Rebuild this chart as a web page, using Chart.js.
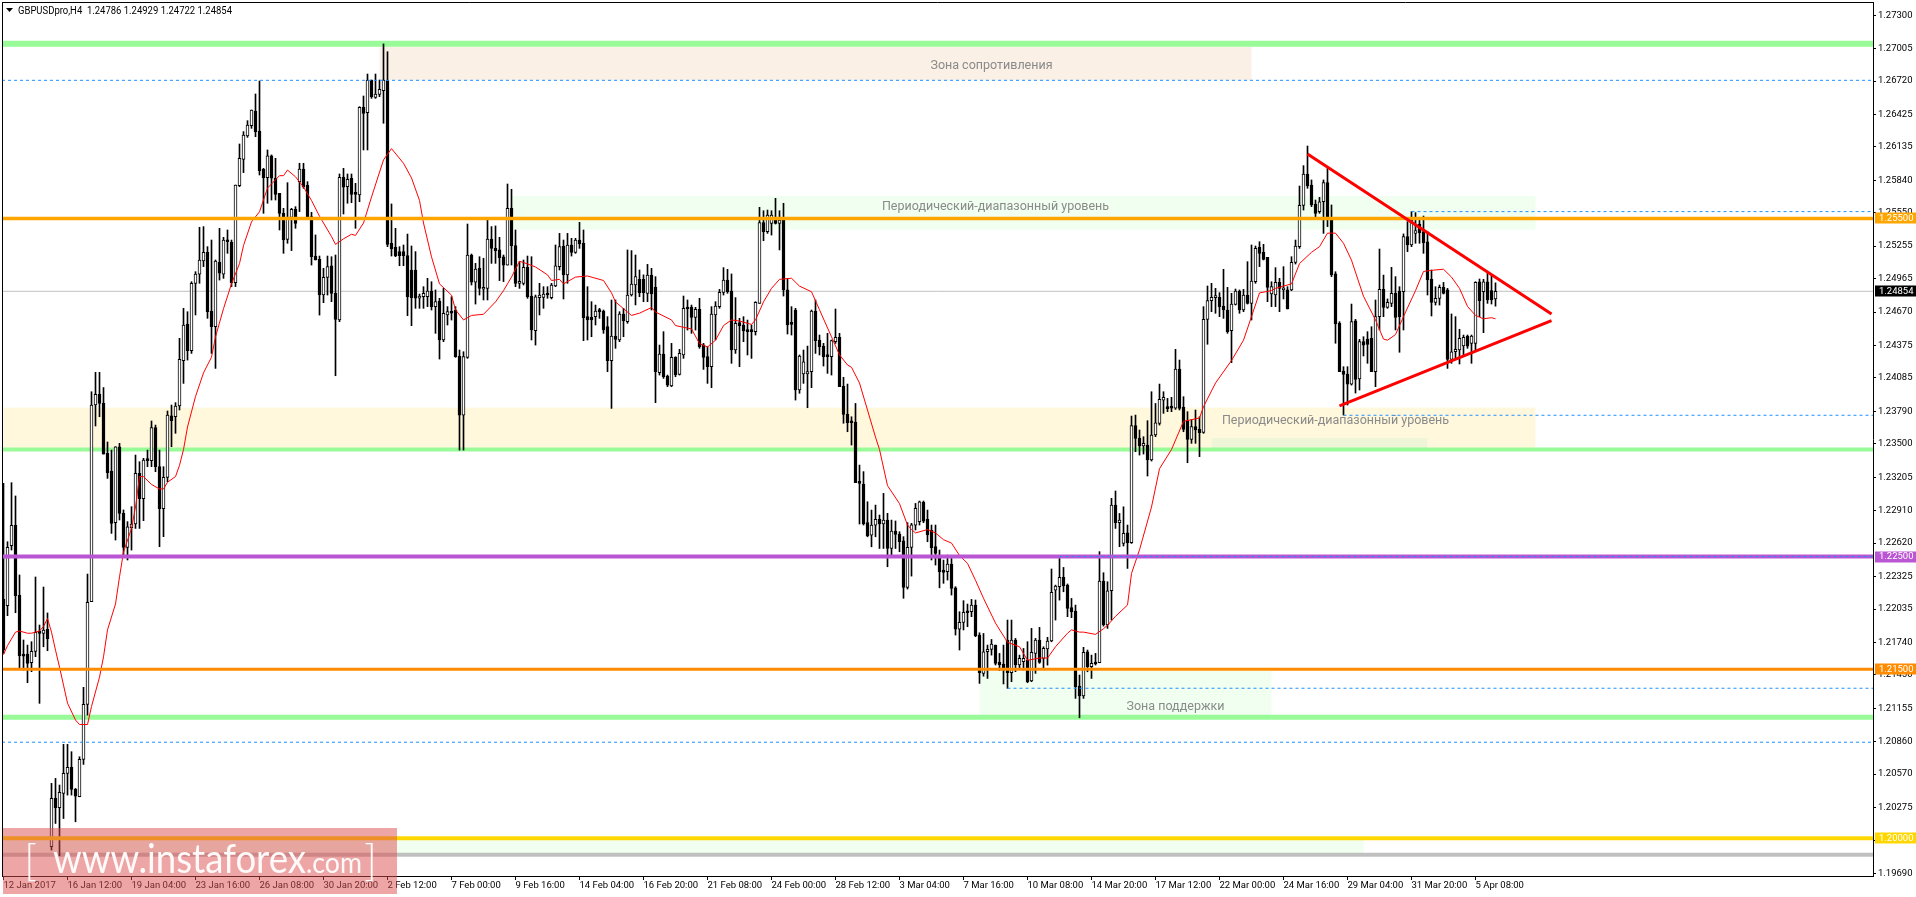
<!DOCTYPE html>
<html><head><meta charset="utf-8">
<style>html,body{margin:0;padding:0;background:#fff;overflow:hidden}canvas{display:block}</style>
<script src="https://cdn.jsdelivr.net/npm/chart.js@4"></script>
</head><body><canvas id="c" width="1916" height="897" style="width:1916px;height:897px"></canvas>
<script>
const opens=[1.22124,1.22064,1.22597,1.22777,1.22156,1.21632,1.21635,1.21558,1.21659,1.21839,1.21819,1.21854,1.19926,1.20355,1.20272,1.20399,1.20576,1.2063,1.20434,1.20369,1.20701,1.21189,1.221,1.23845,1.2394,1.2386,1.23416,1.23259,1.22801,1.23475,1.22884,1.22582,1.22756,1.22789,1.23239,1.23014,1.23363,1.23351,1.23644,1.23298,1.22925,1.23203,1.2375,1.23741,1.23836,1.24238,1.24564,1.24327,1.24925,1.25007,1.25123,1.252,1.24679,1.2454,1.25111,1.25007,1.25309,1.25289,1.24931,1.25791,1.26025,1.26232,1.26324,1.26454,1.26276,1.25936,1.25862,1.26055,1.25857,1.25723,1.25546,1.25315,1.2551,1.25581,1.25827,1.25939,1.25797,1.25516,1.25167,1.25138,1.24821,1.24978,1.25079,1.24836,1.24599,1.25865,1.25783,1.25857,1.25717,1.25709,1.26487,1.26439,1.26729,1.26575,1.26602,1.26634,1.26729,1.2528,1.25244,1.25206,1.25206,1.2517,1.25043,1.25043,1.24792,1.24806,1.24806,1.24857,1.24718,1.24768,1.24422,1.24644,1.24673,1.24688,1.2428,1.23756,1.24268,1.25176,1.24934,1.25058,1.24872,1.2488,1.25318,1.25235,1.25221,1.25161,1.25087,1.2559,1.25259,1.24925,1.24925,1.25067,1.24812,1.24505,1.24798,1.248,1.24827,1.24798,1.24901,1.25073,1.25256,1.25,1.25265,1.252,1.25309,1.2528,1.24629,1.24623,1.24629,1.24679,1.24679,1.2454,1.24238,1.24457,1.24422,1.24653,1.24585,1.24821,1.2491,1.2496,1.2496,1.24836,1.24999,1.24889,1.24132,1.24298,1.24102,1.24014,1.24268,1.24117,1.24289,1.24709,1.24712,1.24623,1.24694,1.24378,1.24274,1.24185,1.24644,1.24718,1.24845,1.24954,1.24857,1.24333,1.24576,1.24555,1.24502,1.24502,1.24496,1.24747,1.25463,1.25383,1.25457,1.2551,1.25457,1.25501,1.24866,1.24576,1.24688,1.23978,1.2412,1.2412,1.24141,1.24679,1.24422,1.24369,1.24289,1.24274,1.24407,1.24446,1.24014,1.23762,1.23694,1.23694,1.23165,1.23144,1.22801,1.22691,1.2278,1.2283,1.22789,1.22824,1.22573,1.22727,1.227,1.22641,1.22227,1.22582,1.2278,1.2281,1.22981,1.2283,1.22736,1.22588,1.22514,1.22381,1.22366,1.22434,1.22224,1.21857,1.21916,1.22017,1.22011,1.2207,1.21804,1.21464,1.21656,1.21677,1.21715,1.21561,1.21547,1.2176,1.2147,1.2176,1.21538,1.21567,1.21582,1.21396,1.21641,1.2176,1.21597,1.2168,1.21751,1.22203,1.22233,1.22316,1.22248,1.22047,1.22017,1.21351,1.21263,1.21656,1.21523,1.21561,1.21558,1.22283,1.21893,1.22197,1.22958,1.22801,1.22617,1.22712,1.22623,1.23662,1.23549,1.23481,1.2349,1.23357,1.23579,1.23682,1.23889,1.23824,1.23824,1.23818,1.24164,1.23824,1.23706,1.2354,1.23653,1.23629,1.23602,1.24605,1.24771,1.24798,1.248,1.24723,1.24688,1.24505,1.24738,1.24857,1.24688,1.24821,1.24747,1.24939,1.25244,1.252,1.25155,1.2483,1.24821,1.24934,1.24866,1.24866,1.24866,1.25111,1.2525,1.25617,1.25895,1.25797,1.25629,1.25561,1.25649,1.25818,1.2551,1.25008,1.2457,1.24147,1.2412,1.24031,1.24593,1.24076,1.24407,1.24431,1.24437,1.24141,1.24629,1.24872,1.24712,1.24747,1.24836,1.24857,1.24851,1.25339,1.25265,1.25368,1.25451,1.25383,1.25294,1.24963,1.24756,1.24791,1.24889,1.24866,1.2425,1.24318,1.24333,1.24369,1.24457,1.24392,1.24392,1.24939,1.24851,1.24939,1.2486,1.24786];
const highs=[1.23150,1.22632,1.23156,1.23038,1.22337,1.21760,1.21715,1.21745,1.22319,1.21893,1.22230,1.22000,1.20488,1.20532,1.20473,1.20834,1.20834,1.20769,1.20443,1.20724,1.21340,1.22345,1.23963,1.24135,1.24135,1.24000,1.23517,1.23445,1.23475,1.23505,1.22914,1.22810,1.22943,1.23401,1.23342,1.23372,1.23445,1.23703,1.23667,1.23445,1.23298,1.23792,1.23845,1.23866,1.24437,1.24703,1.24673,1.24939,1.25028,1.25422,1.25428,1.25250,1.25309,1.25132,1.25413,1.25333,1.25398,1.25309,1.25797,1.26161,1.26271,1.26368,1.26463,1.26605,1.26720,1.25945,1.26108,1.26064,1.26034,1.25723,1.25590,1.25818,1.25590,1.25605,1.25990,1.25990,1.25827,1.25555,1.25354,1.25167,1.25058,1.25167,1.25161,1.25176,1.25895,1.25945,1.25895,1.25895,1.25812,1.26492,1.26587,1.26782,1.26729,1.26782,1.26729,1.27049,1.26980,1.25629,1.25413,1.25250,1.25265,1.25362,1.25256,1.25206,1.24830,1.24895,1.24969,1.24939,1.24866,1.24792,1.24880,1.24718,1.24806,1.24718,1.24333,1.24318,1.25451,1.25185,1.25102,1.25161,1.25147,1.25487,1.25428,1.25434,1.25333,1.25176,1.25806,1.25759,1.25398,1.25117,1.25132,1.25167,1.25161,1.24821,1.24925,1.24895,1.24895,1.24925,1.25265,1.25368,1.25309,1.25368,1.25324,1.25324,1.25466,1.25398,1.24895,1.24762,1.24732,1.24703,1.24688,1.24629,1.24777,1.24777,1.24673,1.24703,1.25221,1.25215,1.25176,1.25043,1.25000,1.25093,1.25058,1.24984,1.24377,1.24496,1.24111,1.24392,1.24274,1.24339,1.24812,1.24777,1.24732,1.24712,1.24792,1.24392,1.24363,1.24718,1.24762,1.24871,1.25064,1.25049,1.25008,1.24798,1.24614,1.24629,1.24599,1.24555,1.24762,1.25599,1.25569,1.25575,1.25569,1.25679,1.25569,1.25635,1.24969,1.24718,1.24703,1.24289,1.24333,1.24368,1.24688,1.24777,1.24466,1.24392,1.24481,1.24422,1.24697,1.24481,1.24091,1.24031,1.23741,1.23859,1.23312,1.23254,1.22987,1.22913,1.22957,1.22869,1.23061,1.22884,1.22824,1.22816,1.22721,1.22677,1.22801,1.22795,1.22972,1.22993,1.22993,1.22913,1.22780,1.22780,1.22558,1.22469,1.22513,1.22484,1.22233,1.22011,1.22109,1.22079,1.22120,1.22115,1.21824,1.21818,1.21715,1.21765,1.21715,1.21641,1.21715,1.21937,1.21937,1.21774,1.21626,1.21685,1.21745,1.21863,1.21774,1.21872,1.21700,1.21784,1.22390,1.22247,1.22484,1.22404,1.22257,1.22129,1.22070,1.21449,1.21695,1.21671,1.21626,1.21641,1.22544,1.22357,1.22277,1.23017,1.23082,1.22883,1.22942,1.22780,1.23747,1.23756,1.23623,1.23564,1.23706,1.23963,1.23859,1.24031,1.23963,1.23904,1.23913,1.24339,1.24244,1.23919,1.23786,1.23712,1.23801,1.23741,1.24718,1.24901,1.24925,1.24880,1.24842,1.25049,1.24889,1.24836,1.24874,1.24866,1.24871,1.25117,1.25265,1.25256,1.25294,1.25271,1.25155,1.24939,1.25064,1.24969,1.25073,1.24895,1.25161,1.25309,1.25788,1.25969,1.26143,1.25842,1.25664,1.25688,1.25842,1.25960,1.25620,1.25028,1.24585,1.24185,1.24185,1.24741,1.24605,1.24428,1.24451,1.24496,1.24540,1.24777,1.25229,1.24998,1.24786,1.25067,1.24984,1.24895,1.25363,1.25472,1.25561,1.25552,1.25493,1.25522,1.25383,1.25043,1.24895,1.24910,1.24933,1.24880,1.24653,1.24629,1.24517,1.24466,1.24466,1.24466,1.24939,1.24963,1.24960,1.25014,1.24993,1.24929];
const lows=[1.21641,1.21976,1.22558,1.22002,1.21508,1.21493,1.21381,1.21479,1.21612,1.21198,1.21700,1.21665,1.19896,1.20132,1.19845,1.20176,1.20384,1.20384,1.20147,1.20369,1.20656,1.21094,1.22100,1.23659,1.23741,1.23410,1.23194,1.22706,1.22647,1.22825,1.22499,1.22470,1.22558,1.22750,1.22750,1.22819,1.23298,1.23298,1.23253,1.22588,1.22677,1.23165,1.23475,1.23594,1.23801,1.24037,1.24244,1.24303,1.24644,1.24925,1.25073,1.24614,1.24303,1.24170,1.24954,1.24969,1.25191,1.24896,1.24896,1.25783,1.25907,1.26220,1.26300,1.26226,1.25886,1.25546,1.25635,1.25664,1.25664,1.25398,1.25191,1.25280,1.25215,1.25413,1.25561,1.25768,1.25516,1.25087,1.25132,1.24643,1.24753,1.24821,1.24762,1.24105,1.24585,1.25540,1.25635,1.25640,1.25413,1.25649,1.26108,1.26108,1.26566,1.26566,1.26581,1.26345,1.25250,1.25167,1.25161,1.25081,1.25081,1.24638,1.24549,1.24703,1.24703,1.24703,1.24718,1.24688,1.24481,1.24253,1.24407,1.24555,1.24599,1.24268,1.23445,1.23445,1.24259,1.24910,1.24741,1.24821,1.24777,1.24777,1.25102,1.25102,1.24949,1.24940,1.25087,1.25087,1.24895,1.24880,1.24910,1.24792,1.24422,1.24377,1.24644,1.24703,1.24792,1.24786,1.24895,1.25043,1.24786,1.24925,1.25167,1.25191,1.25235,1.24416,1.24422,1.24451,1.24555,1.24614,1.24481,1.24141,1.23815,1.24348,1.24407,1.24451,1.24570,1.24812,1.24733,1.24806,1.24762,1.24762,1.24688,1.23866,1.24111,1.24081,1.24008,1.24008,1.24096,1.24111,1.24259,1.24510,1.24481,1.24510,1.24348,1.24161,1.24037,1.23999,1.24422,1.24703,1.24821,1.24836,1.24215,1.24303,1.24185,1.24407,1.24289,1.24259,1.24466,1.24747,1.25303,1.25368,1.25353,1.25451,1.25221,1.24812,1.24475,1.24466,1.23889,1.23949,1.24037,1.23821,1.23999,1.24303,1.24289,1.24191,1.24126,1.24111,1.24392,1.24008,1.23683,1.23608,1.23490,1.23156,1.22789,1.22780,1.22676,1.22587,1.22676,1.22572,1.22572,1.22410,1.22499,1.22572,1.22543,1.22130,1.22212,1.22327,1.22736,1.22780,1.22801,1.22632,1.22470,1.22425,1.22223,1.22263,1.22292,1.22159,1.21804,1.21671,1.21849,1.21878,1.21967,1.21789,1.21375,1.21439,1.21419,1.21626,1.21538,1.21488,1.21370,1.21331,1.21390,1.21479,1.21508,1.21493,1.21381,1.21390,1.21464,1.21553,1.21508,1.21537,1.21744,1.21937,1.22114,1.22188,1.21967,1.21958,1.21242,1.21070,1.21242,1.21478,1.21419,1.21538,1.21558,1.21883,1.21863,1.21937,1.22750,1.22588,1.22594,1.22395,1.22617,1.23431,1.23401,1.23410,1.23215,1.23348,1.23564,1.23667,1.23771,1.23786,1.23786,1.23806,1.23801,1.23608,1.23333,1.23505,1.23505,1.23387,1.23594,1.24384,1.24673,1.24659,1.24629,1.24614,1.24481,1.24221,1.24732,1.24659,1.24673,1.24741,1.24599,1.24925,1.25073,1.25132,1.24762,1.24718,1.24718,1.24673,1.24786,1.24697,1.24860,1.25096,1.25235,1.25575,1.25768,1.25605,1.25516,1.25546,1.25368,1.25428,1.24984,1.24393,1.24141,1.23756,1.23845,1.24022,1.23951,1.23978,1.24280,1.24215,1.24141,1.24008,1.24511,1.24629,1.24703,1.24718,1.24511,1.24313,1.24511,1.25206,1.25250,1.25280,1.25280,1.25191,1.24821,1.24635,1.24732,1.24732,1.24830,1.24170,1.24215,1.24259,1.24209,1.24274,1.24348,1.24215,1.24318,1.24629,1.24487,1.24747,1.24741,1.24722];
const closes=[1.21671,1.22582,1.22777,1.22153,1.21621,1.21617,1.21552,1.21659,1.21828,1.21819,1.21848,1.21772,1.20355,1.20272,1.20408,1.20576,1.20630,1.20434,1.20375,1.20701,1.21189,1.22094,1.23845,1.23940,1.23860,1.23410,1.23245,1.22795,1.23475,1.22884,1.22582,1.22765,1.22789,1.23239,1.23014,1.23357,1.23351,1.23644,1.23298,1.22925,1.23203,1.23755,1.23706,1.23836,1.24250,1.24555,1.24327,1.24925,1.25007,1.25132,1.25200,1.24673,1.24540,1.25123,1.25014,1.25309,1.25294,1.24931,1.25797,1.26034,1.26241,1.26330,1.26463,1.26271,1.25925,1.25862,1.26055,1.25857,1.25714,1.25546,1.25309,1.25510,1.25581,1.25457,1.25939,1.25783,1.25516,1.25161,1.25132,1.24821,1.24978,1.25073,1.24836,1.24605,1.25865,1.25777,1.25848,1.25714,1.25714,1.26487,1.26433,1.26729,1.26581,1.26605,1.26646,1.26729,1.25271,1.25229,1.25167,1.25170,1.25170,1.24806,1.24798,1.24792,1.24812,1.24836,1.24857,1.24718,1.24762,1.24422,1.24659,1.24673,1.24659,1.24274,1.23756,1.24274,1.25176,1.24934,1.25052,1.24880,1.24889,1.25318,1.25235,1.25215,1.25152,1.25087,1.25590,1.25259,1.24925,1.24940,1.25067,1.24806,1.24511,1.24806,1.24821,1.24830,1.24821,1.24910,1.25081,1.25250,1.25000,1.25265,1.25200,1.25309,1.25274,1.24620,1.24599,1.24599,1.24679,1.24673,1.24511,1.24238,1.24457,1.24428,1.24653,1.24593,1.24821,1.24919,1.24984,1.24842,1.24842,1.24999,1.24830,1.24141,1.24298,1.24096,1.24022,1.24268,1.24111,1.24303,1.24703,1.24697,1.24623,1.24694,1.24363,1.24268,1.24185,1.24653,1.24724,1.24845,1.24954,1.24851,1.24333,1.24570,1.24546,1.24502,1.24496,1.24496,1.24756,1.25463,1.25383,1.25531,1.25531,1.25457,1.25487,1.24866,1.24555,1.24561,1.23978,1.24280,1.24229,1.24141,1.24679,1.24416,1.24363,1.24274,1.24274,1.24416,1.24446,1.24008,1.23762,1.23688,1.23688,1.23156,1.23150,1.22789,1.22683,1.22780,1.22830,1.22789,1.22824,1.22573,1.22727,1.22697,1.22632,1.22227,1.22582,1.22783,1.22928,1.22987,1.22815,1.22692,1.22579,1.22529,1.22366,1.22360,1.22434,1.22218,1.21857,1.21916,1.22005,1.22002,1.22070,1.21798,1.21470,1.21656,1.21677,1.21724,1.21553,1.21538,1.21493,1.21470,1.21760,1.21538,1.21597,1.21597,1.21390,1.21650,1.21760,1.21561,1.21686,1.21751,1.22183,1.22239,1.22316,1.22239,1.22041,1.22011,1.21345,1.21263,1.21650,1.21523,1.21553,1.21547,1.22283,1.21893,1.22197,1.22958,1.22801,1.22825,1.22706,1.22623,1.23662,1.23549,1.23481,1.23505,1.23357,1.23579,1.23688,1.23895,1.23913,1.23813,1.23818,1.24164,1.23815,1.23629,1.23540,1.23653,1.23623,1.23599,1.24605,1.24771,1.24800,1.24800,1.24718,1.24688,1.24496,1.24741,1.24857,1.24688,1.24821,1.24747,1.24945,1.25235,1.25191,1.25138,1.24889,1.24895,1.24934,1.24880,1.24880,1.24697,1.25111,1.25256,1.25617,1.25895,1.25788,1.25620,1.25546,1.25649,1.25818,1.25487,1.24999,1.24564,1.24141,1.24117,1.24031,1.24585,1.24072,1.24407,1.24377,1.24383,1.24141,1.24629,1.24872,1.24712,1.24756,1.24836,1.24623,1.24629,1.25339,1.25265,1.25487,1.25392,1.25374,1.25286,1.24954,1.24756,1.24791,1.24889,1.24836,1.24250,1.24318,1.24339,1.24437,1.24446,1.24368,1.24457,1.24934,1.24771,1.24939,1.24777,1.24777,1.24854];
const maIndex=[0,1,3,4,6,7,9,10,11,12,13,14,15,16,18,19,21,22,24,25,26,28,29,30,32,33,34,35,37,39,40,41,43,44,45,46,48,50,52,53,55,57,59,60,62,64,66,69,70,71,73,75,77,79,82,83,85,87,88,90,92,95,97,100,102,104,105,107,109,112,113,115,117,120,123,125,127,129,130,133,136,137,139,140,143,146,150,152,153,155,157,159,162,163,167,168,172,174,176,178,180,182,184,187,188,190,192,194,197,199,202,204,207,209,211,212,214,216,218,219,221,224,226,227,228,231,233,235,237,239,241,243,245,248,251,254,256,259,261,263,266,267,269,270,273,275,276,278,281,282,284,287,289,292,295,299,300,303,307,310,312,314,317,318,322,324,327,329,331,333,335,337,340,343,345,346,348,350,353,355,357,360,362,364,366,368,370,372,373];
const maValues=[1.2163,1.2171,1.2183,1.2184,1.2182,1.2182,1.2184,1.2188,1.2195,1.2183,1.2167,1.2152,1.2136,1.2120,1.2105,1.2101,1.2101,1.2117,1.2143,1.2161,1.2185,1.2208,1.2232,1.2254,1.2275,1.2294,1.2321,1.2321,1.2314,1.2310,1.2310,1.2316,1.2321,1.2331,1.2345,1.2365,1.2392,1.2413,1.2427,1.2445,1.2470,1.2492,1.2510,1.2526,1.2547,1.2556,1.2577,1.2588,1.2588,1.2593,1.2587,1.2578,1.2566,1.2552,1.2534,1.2527,1.2532,1.2536,1.2535,1.2546,1.2569,1.2602,1.2612,1.2599,1.2586,1.2566,1.2546,1.2516,1.2492,1.2482,1.2469,1.2460,1.2464,1.2465,1.2476,1.2486,1.2498,1.2512,1.2511,1.2507,1.2500,1.2495,1.2496,1.2492,1.2498,1.2499,1.2495,1.2484,1.2476,1.2470,1.2464,1.2466,1.2471,1.2467,1.2460,1.2455,1.2452,1.2439,1.2436,1.2442,1.2455,1.2460,1.2459,1.2456,1.2460,1.2476,1.2488,1.2496,1.2497,1.2490,1.2485,1.2469,1.2445,1.2429,1.2420,1.2418,1.2404,1.2380,1.2356,1.2345,1.2313,1.2297,1.2278,1.2274,1.2271,1.2274,1.2271,1.2265,1.2262,1.2251,1.2244,1.2229,1.2213,1.2191,1.2174,1.2170,1.2158,1.2160,1.2160,1.2170,1.2182,1.2185,1.2183,1.2183,1.2181,1.2186,1.2189,1.2197,1.2207,1.2235,1.2256,1.2294,1.2328,1.2345,1.2370,1.2373,1.2383,1.2404,1.2424,1.2442,1.2463,1.2484,1.2486,1.2488,1.2492,1.2510,1.2520,1.2525,1.2537,1.2537,1.2528,1.2513,1.2481,1.2460,1.2443,1.2442,1.2447,1.2463,1.2486,1.2503,1.2504,1.2505,1.2498,1.2488,1.2472,1.2464,1.2461,1.2462,1.2461];
const xLabels=["12 Jan 2017","16 Jan 12:00","19 Jan 04:00","23 Jan 16:00","26 Jan 08:00","30 Jan 20:00","2 Feb 12:00","7 Feb 00:00","9 Feb 16:00","14 Feb 04:00","16 Feb 20:00","21 Feb 08:00","24 Feb 00:00","28 Feb 12:00","3 Mar 04:00","7 Mar 16:00","10 Mar 08:00","14 Mar 20:00","17 Mar 12:00","22 Mar 00:00","24 Mar 16:00","29 Mar 04:00","31 Mar 20:00","5 Apr 08:00"];
const yTicks=[1.27300,1.27005,1.26720,1.26425,1.26135,1.25840,1.25550,1.25255,1.24965,1.24670,1.24375,1.24085,1.23790,1.23500,1.23205,1.22910,1.22620,1.22325,1.22035,1.21740,1.21450,1.21155,1.20860,1.20570,1.20275,1.19985,1.19690];
const levelPrices=[1.27050,1.26726,1.25500,1.25561,1.24854,1.23754,1.23450,1.22500,1.22500,1.21500,1.21332,1.21074,1.20853,1.20000,1.19855];
const levelStarts=[0,0,0,352,0,335,0,0,264,0,251,0,0,0,0];
const tagPrices=[1.25500,1.24854,1.22500,1.21500,1.20000];
const upperTrendIndex=[326,387], upperTrendPrice=[1.26073,1.24653];
const lowerTrendIndex=[334,387], lowerTrendPrice=[1.23837,1.24593];
const zoneStart=[94,127,0,302,244,0], zoneEnd=[312,383,383,356,317,340];
const zoneHigh=[1.27022,1.25700,1.23822,1.23553,1.21485,1.19986], zoneLow=[1.26729,1.25401,1.23455,1.23464,1.21095,1.19870];
const zoneTexts=["Зона сопротивления","Периодический-диапазонный уровень","Периодический-диапазонный уровень","Зона поддержки"];
const zoneTextIndex=[247,248,333,293], zoneTextPrice=[1.26856,1.25602,1.23706,1.21168];
const titleText="GBPUSDpro,H4  1.24786 1.24929 1.24722 1.24854";

const BAR_MIN=-0.375, BAR_MAX=467.375, Y_MIN=1.19666, Y_MAX=1.27421;
const levelStyle=[
 {c:'#98FB98',w:6,o:20},{c:'#1E90FF',w:1,d:[3,3],o:3},{c:'#FFA500',w:3.5,o:2},{c:'#1E90FF',w:1,d:[3,3],o:3},{c:'#C0C0C0',w:1,o:21},
 {c:'#1E90FF',w:1,d:[3,3],o:3},{c:'#98FB98',w:4,o:20},{c:'#BA55D3',w:4,o:3},{c:'#1E90FF',w:1,d:[3,3],o:2},{c:'#FF8C00',w:3,o:2},
 {c:'#1E90FF',w:1,d:[3,3],o:3},{c:'#98FB98',w:5,o:20},{c:'#1E90FF',w:1,d:[3,3],o:3},{c:'#FFD700',w:4,o:2},{c:'#C0C0C0',w:4,o:20}];
const zoneColors=['#FAF0E6','#F0FFF0','#FFF8DC','#EFF6D8','#F0FFF0','#F0FFF0'];
const tagColors=['#FFA500','#000000','#BA55D3','#FF8C00','#FFD700'];
const UI_FONT='Roboto, "Noto Sans", sans-serif';

const idx=opens.map((_,i)=>i);
const datasets=[];
levelPrices.forEach((p,i)=>{const s=levelStyle[i];datasets.push({type:'line',data:[{x:levelStarts[i]===0?BAR_MIN:levelStarts[i],y:p},{x:BAR_MAX,y:p}],borderColor:s.c,borderWidth:s.w,borderDash:s.d||[],pointRadius:0,order:s.o,tension:0});});
datasets.push({type:'bar',data:idx.map(i=>({x:i,y:[lows[i],highs[i]]})),backgroundColor:'#000',borderWidth:0,barThickness:1,grouped:false,order:10,minBarLength:1});
datasets.push({type:'bar',data:idx.map(i=>({x:i,y:[opens[i],closes[i]]})),backgroundColor:idx.map(i=>closes[i]>=opens[i]?'#fff':'#000'),borderColor:'#000',borderWidth:1,borderSkipped:false,barThickness:3,grouped:false,order:9,minBarLength:2});
datasets.push({type:'line',data:maIndex.map((x,i)=>({x,y:maValues[i]})),borderColor:'#FF0000',borderWidth:1,pointRadius:0,order:5,tension:0});
datasets.push({type:'line',data:upperTrendIndex.map((x,i)=>({x,y:upperTrendPrice[i]})),borderColor:'#FF0000',borderWidth:3,pointRadius:0,order:1,tension:0});
datasets.push({type:'line',data:lowerTrendIndex.map((x,i)=>({x,y:lowerTrendPrice[i]})),borderColor:'#FF0000',borderWidth:3,pointRadius:0,order:1,tension:0});

const decor={id:'decor',
 beforeDatasetsDraw(ch){const c=ch.ctx,X=ch.scales.x,Y=ch.scales.y,a=ch.chartArea;c.save();c.beginPath();c.rect(a.left,a.top,a.right-a.left,a.bottom-a.top);c.clip();
  zoneStart.forEach((s,i)=>{const x0=X.getPixelForValue(s),x1=X.getPixelForValue(zoneEnd[i]),y0=Y.getPixelForValue(zoneHigh[i]),y1=Y.getPixelForValue(zoneLow[i]);c.fillStyle=zoneColors[i];c.fillRect(x0,y0,x1-x0,y1-y0);});
  c.font='12.5px '+UI_FONT;c.fillStyle='#8a8a8a';c.textAlign='center';c.textBaseline='middle';
  zoneTexts.forEach((t,i)=>c.fillText(t,X.getPixelForValue(zoneTextIndex[i]),Y.getPixelForValue(zoneTextPrice[i])));
  c.restore();},
 afterDraw(ch){const c=ch.ctx,Y=ch.scales.y;c.save();
  c.strokeStyle='#000';c.lineWidth=1;c.beginPath();c.moveTo(2,2.5);c.lineTo(1873.5,2.5);c.moveTo(2.5,2);c.lineTo(2.5,876);c.stroke();
  c.font='9.5px '+UI_FONT;c.textBaseline='middle';c.textAlign='left';
  tagPrices.forEach((p,i)=>{const y=Y.getPixelForValue(p);c.fillStyle=tagColors[i];c.fillRect(1875,Math.round(y)-5.5,41,11);c.fillStyle='#fff';c.fillText(p.toFixed(5),1879,y);});
  c.fillStyle='#000';c.beginPath();c.moveTo(6,8);c.lineTo(13,8);c.lineTo(9.5,12);c.closePath();c.fill();
  c.font='10px '+UI_FONT;c.fillText(titleText,18,11,214);
  c.fillStyle='rgba(220,75,75,0.5)';c.fillRect(3,828,394,66);
  c.fillStyle='rgba(255,255,255,0.95)';c.textBaseline='alphabetic';
  c.font='400 40px Lato, "Open Sans", sans-serif';c.fillText('www.instaforex',53,873,253);
  c.font='400 29px Lato, "Open Sans", sans-serif';c.fillText('.com',306,873,56);
  c.font='300 44px Lato, "Open Sans", sans-serif';c.fillText('[',24,876);c.fillText(']',364,876);
  c.restore();}
};
function noPad(s){s.paddingTop=0;s.paddingBottom=0;s.paddingLeft=0;s.paddingRight=0;}
new Chart(document.getElementById('c'),{type:'bar',data:{datasets},plugins:[decor],options:{
 responsive:false,animation:false,devicePixelRatio:1,
 layout:{padding:{left:2,top:2,right:0,bottom:0}},
 plugins:{legend:{display:false},tooltip:{enabled:false}},
 scales:{
  x:{type:'linear',min:BAR_MIN,max:BAR_MAX,offset:false,position:'bottom',
   grid:{drawOnChartArea:false,drawTicks:true,tickLength:4,color:'#000',offset:false},border:{display:true,color:'#000',width:1},
   afterBuildTicks(s){s.ticks=xLabels.map((_,k)=>({value:k*16}));},
   afterFit(s){s.height=21;noPad(s);},
   ticks:{autoSkip:false,maxRotation:0,minRotation:0,align:'start',padding:0,color:'#000',font:{family:UI_FONT,size:9.5},callback:v=>xLabels[v/16]}},
  y:{type:'linear',position:'right',min:Y_MIN,max:Y_MAX,
   grid:{drawOnChartArea:false,drawTicks:true,tickLength:3,color:'#000'},border:{display:true,color:'#000',width:1},
   afterBuildTicks(s){s.ticks=yTicks.map(v=>({value:v}));},
   afterFit(s){s.width=43;noPad(s);},
   ticks:{autoSkip:false,padding:2,color:'#000',font:{family:UI_FONT,size:9.5},callback:v=>v.toFixed(5)}}
 }}});
</script></body></html>
